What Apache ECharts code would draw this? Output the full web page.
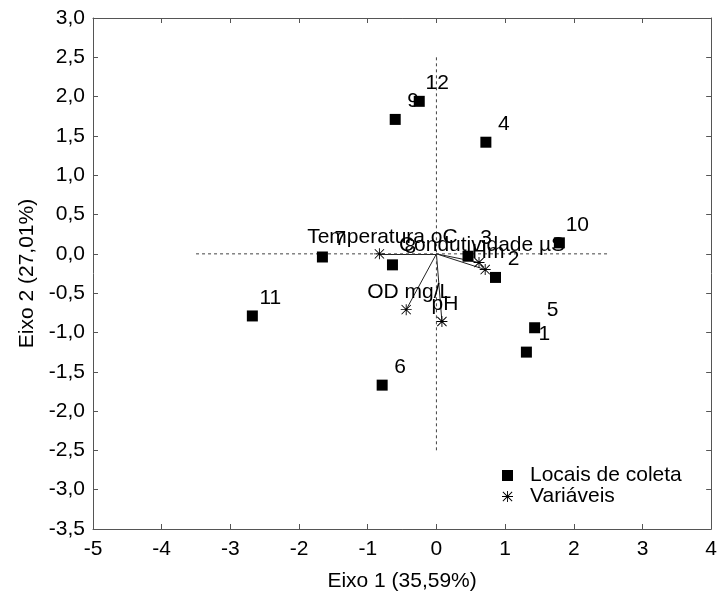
<!DOCTYPE html>
<html>
<head>
<meta charset="utf-8">
<script src="https://cdn.jsdelivr.net/npm/echarts@6/dist/echarts.min.js"></script>
<style>
  html, body { margin: 0; padding: 0; background: #fff; }
  #chart { width: 720px; height: 600px; }
</style>
</head>
<body>
<div id="chart"></div>
<script>
// sampling sites (squares)
var siteNames = ['1', '2', '3', '4', '5', '6', '7', '8', '9', '10', '11', '12'];
var siteX = [1.31, 0.86, 0.46, 0.72, 1.43, -0.79, -1.66, -0.64, -0.60, 1.79, -2.68, -0.25];
var siteY = [-1.25, -0.30, -0.03, 1.42, -0.94, -1.67, -0.04, -0.14, 1.71, 0.14, -0.79, 1.94];

// variables (asterisks)
var varNames = ['Temperatura oC', 'Condutividade µS', 'Hm', 'OD mg/L', 'pH'];
var varX = [-0.83, 0.62, 0.71, -0.44, 0.08];
var varY = [0.00, -0.11, -0.20, -0.71, -0.86];

// dashed reference lines through the origin
var refH = [-3.5, 2.5];
var refV = [2.5, -2.5];

var FONT = 'Arial, "Liberation Sans", sans-serif';
var FS = 21;
var AXIS_COLOR = '#555';
var ASTERISK = 'path://M5.5 0 L6.5 0 L6.5 12 L5.5 12 Z M0 5.5 L12 5.5 L12 6.5 L0 6.5 Z ' +
  'M0.6 1.3 L1.3 0.6 L11.4 10.7 L10.7 11.4 Z M10.7 0.6 L11.4 1.3 L1.3 11.4 L0.6 10.7 Z';

var sites = siteNames.map(function(n, i) {
  return { name: n, value: [siteX[i], siteY[i]] };
});
var vars = varNames.map(function(n, i) {
  return { name: n, value: [varX[i], varY[i]] };
});
var vectors = varNames.map(function(n, i) {
  return { coords: [[0, 0], [varX[i], varY[i]]] };
});

function yFmt(v) {
  return v.toFixed(1).replace('.', ',');
}

var chart = echarts.init(document.getElementById('chart'));
chart.setOption({
  animation: false,
  textStyle: { fontFamily: FONT },
  grid: { left: 93, right: 7, top: 18, bottom: 71 },
  legend: {
    orient: 'vertical',
    left: 497,
    top: 460,
    itemWidth: 11,
    itemHeight: 11,
    itemGap: 0,
    data: ['Locais de coleta', 'Variáveis'],
    textStyle: { color: '#000', fontSize: FS, fontFamily: FONT, lineHeight: 21, padding: [0, 0, 0, 12] }
  },
  xAxis: [
    {
      type: 'value', min: -5, max: 4, interval: 1,
      name: 'Eixo 1 (35,59%)', nameLocation: 'middle', nameGap: 42,
      nameTextStyle: { color: '#000', fontSize: FS, fontFamily: FONT },
      axisLine: { show: true, onZero: false, lineStyle: { color: AXIS_COLOR, width: 1 } },
      axisTick: { show: true, inside: true, length: 5, lineStyle: { color: AXIS_COLOR } },
      axisLabel: { color: '#000', fontSize: FS, fontFamily: FONT, margin: 10 },
      splitLine: { show: false }
    },
    {
      type: 'value', min: -5, max: 4, interval: 1, position: 'top',
      axisLine: { show: true, onZero: false, lineStyle: { color: AXIS_COLOR, width: 1 } },
      axisTick: { show: true, inside: true, length: 5, lineStyle: { color: AXIS_COLOR } },
      axisLabel: { show: false },
      splitLine: { show: false }
    }
  ],
  yAxis: [
    {
      type: 'value', min: -3.5, max: 3, interval: 0.5,
      name: 'Eixo 2 (27,01%)', nameLocation: 'middle', nameGap: 50,
      nameTextStyle: { color: '#000', fontSize: FS, fontFamily: FONT },
      axisLine: { show: true, onZero: false, lineStyle: { color: AXIS_COLOR, width: 1 } },
      axisTick: { show: true, inside: true, length: 5, lineStyle: { color: AXIS_COLOR } },
      axisLabel: { color: '#000', fontSize: FS, fontFamily: FONT, margin: 8, formatter: yFmt },
      splitLine: { show: false }
    },
    {
      type: 'value', min: -3.5, max: 3, interval: 0.5, position: 'right',
      axisLine: { show: true, onZero: false, lineStyle: { color: AXIS_COLOR, width: 1 } },
      axisTick: { show: true, inside: true, length: 5, lineStyle: { color: AXIS_COLOR } },
      axisLabel: { show: false },
      splitLine: { show: false }
    }
  ],
  series: [
    {
      type: 'line',
      silent: true,
      symbol: 'none',
      data: [[refH[0], 0], [refH[1], 0]],
      lineStyle: { color: '#444', width: 1, type: [3, 3] }
    },
    {
      type: 'line',
      silent: true,
      symbol: 'none',
      data: [[0, refV[0]], [0, refV[1]]],
      lineStyle: { color: '#444', width: 1, type: [3, 3] }
    },
    {
      type: 'lines',
      coordinateSystem: 'cartesian2d',
      silent: true,
      data: vectors,
      lineStyle: { color: '#222', width: 1, opacity: 1 }
    },
    {
      name: 'Locais de coleta',
      type: 'scatter',
      symbol: 'rect',
      symbolSize: 11,
      itemStyle: { color: '#000', opacity: 1 },
      data: sites,
      label: {
        show: true,
        position: 'inside',
        offset: [18, -18],
        formatter: '{b}',
        color: '#000',
        fontSize: FS,
        fontFamily: FONT
      },
      z: 5
    },
    {
      name: 'Variáveis',
      type: 'scatter',
      symbol: ASTERISK,
      symbolSize: 11,
      itemStyle: { color: '#000', opacity: 1 },
      data: vars,
      label: {
        show: true,
        position: 'inside',
        offset: [3, -17],
        formatter: '{b}',
        color: '#000',
        fontSize: FS,
        fontFamily: FONT
      },
      z: 5
    }
  ]
});
</script>
</body>
</html>
